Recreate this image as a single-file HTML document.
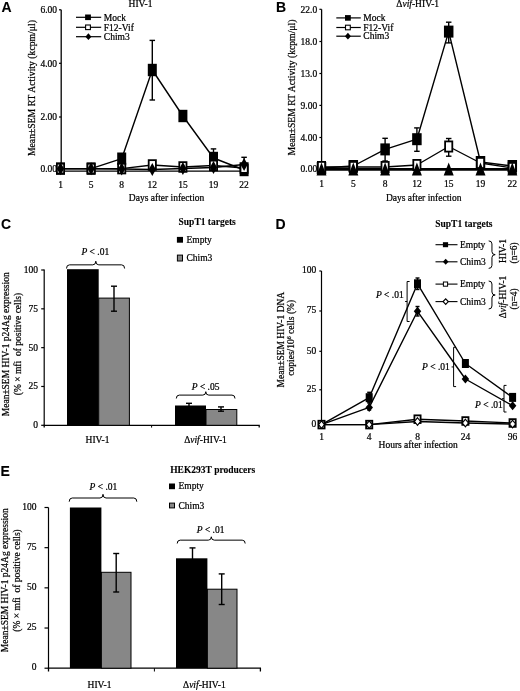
<!DOCTYPE html>
<html><head><meta charset="utf-8"><title>Figure</title>
<style>
html,body{margin:0;padding:0;background:#fff;width:520px;height:691px;overflow:hidden;}
svg{display:block;filter:grayscale(1);}
text{stroke:#000;stroke-width:0.22px;}
text[font-weight=bold]{stroke-width:0.1px;}

</style></head>
<body>
<svg width="520" height="691" viewBox="0 0 520 691">
<rect width="520" height="691" fill="#fff"/>
<text font-family="&quot;Liberation Sans&quot;, sans-serif" font-size="14" x="1.6" y="11.8" fill="#000" font-weight="bold" >A</text>
<line x1="61.2" y1="9.8" x2="61.2" y2="171.5" stroke="#000" stroke-width="1.3"/>
<line x1="59.0" y1="9.8" x2="61.2" y2="9.8" stroke="#000" stroke-width="1.2"/>
<text font-family="&quot;Liberation Serif&quot;, serif" font-size="9.5" x="57" y="13.0" fill="#000" text-anchor="end" >6.00</text>
<line x1="59.0" y1="63.3" x2="61.2" y2="63.3" stroke="#000" stroke-width="1.2"/>
<text font-family="&quot;Liberation Serif&quot;, serif" font-size="9.5" x="57" y="66.5" fill="#000" text-anchor="end" >4.00</text>
<line x1="59.0" y1="117" x2="61.2" y2="117" stroke="#000" stroke-width="1.2"/>
<text font-family="&quot;Liberation Serif&quot;, serif" font-size="9.5" x="57" y="120.2" fill="#000" text-anchor="end" >2.00</text>
<line x1="59.0" y1="168.5" x2="61.2" y2="168.5" stroke="#000" stroke-width="1.2"/>
<text font-family="&quot;Liberation Serif&quot;, serif" font-size="9.5" x="57" y="171.7" fill="#000" text-anchor="end" >0.00</text>
<text font-family="&quot;Liberation Serif&quot;, serif" font-size="9.7" x="34.8" y="88.1" fill="#000" text-anchor="middle" transform="rotate(-90 34.8 88.1)" >Mean&#177;SEM RT Activity (kcpm/&#956;l)</text>
<text font-family="&quot;Liberation Serif&quot;, serif" font-size="9.5" x="60.5" y="187.6" fill="#000" text-anchor="middle" >1</text>
<text font-family="&quot;Liberation Serif&quot;, serif" font-size="9.5" x="91.1" y="187.6" fill="#000" text-anchor="middle" >5</text>
<text font-family="&quot;Liberation Serif&quot;, serif" font-size="9.5" x="121.7" y="187.6" fill="#000" text-anchor="middle" >8</text>
<text font-family="&quot;Liberation Serif&quot;, serif" font-size="9.5" x="152.3" y="187.6" fill="#000" text-anchor="middle" >12</text>
<text font-family="&quot;Liberation Serif&quot;, serif" font-size="9.5" x="182.9" y="187.6" fill="#000" text-anchor="middle" >15</text>
<text font-family="&quot;Liberation Serif&quot;, serif" font-size="9.5" x="213.5" y="187.6" fill="#000" text-anchor="middle" >19</text>
<text font-family="&quot;Liberation Serif&quot;, serif" font-size="9.5" x="244.10000000000002" y="187.6" fill="#000" text-anchor="middle" >22</text>
<text font-family="&quot;Liberation Serif&quot;, serif" font-size="9.5" x="166.6" y="200.8" fill="#000" text-anchor="middle" >Days after infection</text>
<text font-family="&quot;Liberation Serif&quot;, serif" font-size="9.5" x="140.5" y="7.4" fill="#000" text-anchor="middle" >HIV-1</text>
<line x1="76.0" y1="17.3" x2="101.2" y2="17.3" stroke="#000" stroke-width="1.2"/>
<rect x="85.1" y="14.5" width="5.8" height="5.6" fill="#000"/>
<text font-family="&quot;Liberation Serif&quot;, serif" font-size="9.5" x="103.8" y="20.5" fill="#000" >Mock</text>
<line x1="76.0" y1="27.3" x2="101.2" y2="27.3" stroke="#000" stroke-width="1.2"/>
<rect x="85.6" y="25.0" width="4.8" height="4.6" fill="#fff" stroke="#000" stroke-width="1.1"/>
<text font-family="&quot;Liberation Serif&quot;, serif" font-size="9.5" x="103.8" y="30.5" fill="#000" >F12-Vif</text>
<line x1="76.0" y1="36.7" x2="101.2" y2="36.7" stroke="#000" stroke-width="1.2"/>
<polygon points="88.4,33.300000000000004 91.4,36.7 88.4,40.1 85.4,36.7" fill="#000"/>
<text font-family="&quot;Liberation Serif&quot;, serif" font-size="9.5" x="103.8" y="39.900000000000006" fill="#000" >Chim3</text>
<line x1="61.2" y1="171.2" x2="244.4" y2="171.2" stroke="#000" stroke-width="1.3"/>
<polyline points="60.5,168.6 91.1,168.6 121.7,168.6 152.3,165 182.9,167 213.5,165.5 244.10000000000002,168" fill="none" stroke="#000" stroke-width="1.4" stroke-linejoin="round"/>
<polyline points="60.5,168.8 91.1,168.8 121.7,169.0 152.3,169.5 182.9,168.5 213.5,167.5 244.10000000000002,164.5" fill="none" stroke="#000" stroke-width="1.4" stroke-linejoin="round"/>
<polyline points="60.5,168.6 91.1,168.6 121.7,158.7 152.3,70 182.9,116 213.5,158 244.10000000000002,170" fill="none" stroke="#000" stroke-width="1.4" stroke-linejoin="round"/>
<line x1="152.3" y1="40.4" x2="152.3" y2="100" stroke="#000" stroke-width="1.4"/>
<line x1="149.55" y1="40.4" x2="155.05" y2="40.4" stroke="#000" stroke-width="1.4"/>
<line x1="149.55" y1="100" x2="155.05" y2="100" stroke="#000" stroke-width="1.4"/>
<line x1="182.9" y1="113" x2="182.9" y2="119" stroke="#000" stroke-width="1.4"/>
<line x1="180.15" y1="113" x2="185.65" y2="113" stroke="#000" stroke-width="1.4"/>
<line x1="180.15" y1="119" x2="185.65" y2="119" stroke="#000" stroke-width="1.4"/>
<line x1="213.5" y1="148.9" x2="213.5" y2="156" stroke="#000" stroke-width="1.4"/>
<line x1="210.75" y1="148.9" x2="216.25" y2="148.9" stroke="#000" stroke-width="1.4"/>
<line x1="244.10000000000002" y1="157.3" x2="244.10000000000002" y2="164" stroke="#000" stroke-width="1.4"/>
<line x1="241.35000000000002" y1="157.3" x2="246.85000000000002" y2="157.3" stroke="#000" stroke-width="1.4"/>
<rect x="56.0" y="162.4" width="9" height="12.4" fill="#000"/>
<rect x="86.6" y="162.4" width="9" height="12.4" fill="#000"/>
<rect x="117.2" y="152.5" width="9" height="12.4" fill="#000"/>
<rect x="147.8" y="63.8" width="9" height="12.4" fill="#000"/>
<rect x="178.4" y="109.8" width="9" height="12.4" fill="#000"/>
<rect x="209.0" y="151.8" width="9" height="12.4" fill="#000"/>
<rect x="239.60000000000002" y="163.8" width="9" height="12.4" fill="#000"/>
<rect x="56.9" y="163.75" width="7.2" height="9.7" fill="#fff" stroke="#000" stroke-width="1.8"/>
<rect x="87.5" y="163.75" width="7.2" height="9.7" fill="#fff" stroke="#000" stroke-width="1.8"/>
<rect x="118.10000000000001" y="163.75" width="7.2" height="9.7" fill="#fff" stroke="#000" stroke-width="1.8"/>
<rect x="148.70000000000002" y="160.15" width="7.2" height="9.7" fill="#fff" stroke="#000" stroke-width="1.8"/>
<rect x="179.3" y="162.15" width="7.2" height="9.7" fill="#fff" stroke="#000" stroke-width="1.8"/>
<rect x="209.9" y="160.65" width="7.2" height="9.7" fill="#fff" stroke="#000" stroke-width="1.8"/>
<rect x="240.50000000000003" y="163.15" width="7.2" height="9.7" fill="#fff" stroke="#000" stroke-width="1.8"/>
<polygon points="60.5,162.3 64.1,168.8 60.5,175.3 56.9,168.8" fill="#000"/>
<polygon points="91.1,162.3 94.69999999999999,168.8 91.1,175.3 87.5,168.8" fill="#000"/>
<polygon points="121.7,162.5 125.3,169.0 121.7,175.5 118.10000000000001,169.0" fill="#000"/>
<polygon points="152.3,163.0 155.9,169.5 152.3,176.0 148.70000000000002,169.5" fill="#000"/>
<polygon points="182.9,162.0 186.5,168.5 182.9,175.0 179.3,168.5" fill="#000"/>
<polygon points="213.5,161.0 217.1,167.5 213.5,174.0 209.9,167.5" fill="#000"/>
<polygon points="244.10000000000002,158.0 247.70000000000002,164.5 244.10000000000002,171.0 240.50000000000003,164.5" fill="#000"/>
<text font-family="&quot;Liberation Sans&quot;, sans-serif" font-size="14" x="276.0" y="11.7" fill="#000" font-weight="bold" >B</text>
<line x1="321.6" y1="9.3" x2="321.6" y2="170" stroke="#000" stroke-width="1.3"/>
<line x1="319.40000000000003" y1="9.3" x2="321.6" y2="9.3" stroke="#000" stroke-width="1.2"/>
<text font-family="&quot;Liberation Serif&quot;, serif" font-size="9.5" x="317.2" y="12.5" fill="#000" text-anchor="end" >22.0</text>
<line x1="319.40000000000003" y1="41.5" x2="321.6" y2="41.5" stroke="#000" stroke-width="1.2"/>
<text font-family="&quot;Liberation Serif&quot;, serif" font-size="9.5" x="317.2" y="44.7" fill="#000" text-anchor="end" >18.0</text>
<line x1="319.40000000000003" y1="73.5" x2="321.6" y2="73.5" stroke="#000" stroke-width="1.2"/>
<text font-family="&quot;Liberation Serif&quot;, serif" font-size="9.5" x="317.2" y="76.7" fill="#000" text-anchor="end" >13.0</text>
<line x1="319.40000000000003" y1="105.4" x2="321.6" y2="105.4" stroke="#000" stroke-width="1.2"/>
<text font-family="&quot;Liberation Serif&quot;, serif" font-size="9.5" x="317.2" y="108.60000000000001" fill="#000" text-anchor="end" >9.00</text>
<line x1="319.40000000000003" y1="137.5" x2="321.6" y2="137.5" stroke="#000" stroke-width="1.2"/>
<text font-family="&quot;Liberation Serif&quot;, serif" font-size="9.5" x="317.2" y="140.7" fill="#000" text-anchor="end" >4.00</text>
<line x1="319.40000000000003" y1="169.2" x2="321.6" y2="169.2" stroke="#000" stroke-width="1.2"/>
<text font-family="&quot;Liberation Serif&quot;, serif" font-size="9.5" x="317.2" y="172.39999999999998" fill="#000" text-anchor="end" >0.00</text>
<text font-family="&quot;Liberation Serif&quot;, serif" font-size="9.7" x="295.3" y="87.5" fill="#000" text-anchor="middle" transform="rotate(-90 295.3 87.5)" >Mean&#177;SEM RT Activity (kcpm/&#956;l)</text>
<text font-family="&quot;Liberation Serif&quot;, serif" font-size="9.5" x="321.5" y="187.2" fill="#000" text-anchor="middle" >1</text>
<text font-family="&quot;Liberation Serif&quot;, serif" font-size="9.5" x="353.3" y="187.2" fill="#000" text-anchor="middle" >5</text>
<text font-family="&quot;Liberation Serif&quot;, serif" font-size="9.5" x="385.1" y="187.2" fill="#000" text-anchor="middle" >8</text>
<text font-family="&quot;Liberation Serif&quot;, serif" font-size="9.5" x="416.9" y="187.2" fill="#000" text-anchor="middle" >12</text>
<text font-family="&quot;Liberation Serif&quot;, serif" font-size="9.5" x="448.7" y="187.2" fill="#000" text-anchor="middle" >15</text>
<text font-family="&quot;Liberation Serif&quot;, serif" font-size="9.5" x="480.5" y="187.2" fill="#000" text-anchor="middle" >19</text>
<text font-family="&quot;Liberation Serif&quot;, serif" font-size="9.5" x="512.3" y="187.2" fill="#000" text-anchor="middle" >22</text>
<text font-family="&quot;Liberation Serif&quot;, serif" font-size="9.5" x="423.7" y="200.8" fill="#000" text-anchor="middle" >Days after infection</text>
<text font-family="&quot;Liberation Serif&quot;, serif" font-size="9.5" x="417.7" y="7.4" text-anchor="middle">&#916;<tspan font-style="italic">vif</tspan>-HIV-1</text>
<line x1="336.3" y1="17.9" x2="360.8" y2="17.9" stroke="#000" stroke-width="1.2"/>
<rect x="345.0" y="15.099999999999998" width="5.8" height="5.6" fill="#000"/>
<text font-family="&quot;Liberation Serif&quot;, serif" font-size="9.5" x="363.3" y="21.099999999999998" fill="#000" >Mock</text>
<line x1="336.3" y1="27.5" x2="360.8" y2="27.5" stroke="#000" stroke-width="1.2"/>
<rect x="345.5" y="25.2" width="4.8" height="4.6" fill="#fff" stroke="#000" stroke-width="1.1"/>
<text font-family="&quot;Liberation Serif&quot;, serif" font-size="9.5" x="363.3" y="30.7" fill="#000" >F12-Vif</text>
<line x1="336.3" y1="36.2" x2="360.8" y2="36.2" stroke="#000" stroke-width="1.2"/>
<polygon points="347.9,32.800000000000004 350.9,36.2 347.9,39.6 344.9,36.2" fill="#000"/>
<text font-family="&quot;Liberation Serif&quot;, serif" font-size="9.5" x="363.3" y="39.400000000000006" fill="#000" >Chim3</text>
<line x1="321.6" y1="169.4" x2="512.3" y2="169.4" stroke="#000" stroke-width="2.6"/>
<polyline points="321.5,167 353.3,167 385.1,167 416.9,165 448.7,146.5 480.5,163 512.3,168" fill="none" stroke="#000" stroke-width="1.4" stroke-linejoin="round"/>
<polyline points="321.5,168 353.3,166 385.1,149.4 416.9,139.2 448.7,31.6 480.5,162 512.3,166" fill="none" stroke="#000" stroke-width="1.4" stroke-linejoin="round"/>
<line x1="385.1" y1="138.3" x2="385.1" y2="161" stroke="#000" stroke-width="1.4"/>
<line x1="382.35" y1="138.3" x2="387.85" y2="138.3" stroke="#000" stroke-width="1.4"/>
<line x1="382.35" y1="161" x2="387.85" y2="161" stroke="#000" stroke-width="1.4"/>
<line x1="416.9" y1="127.9" x2="416.9" y2="151.3" stroke="#000" stroke-width="1.4"/>
<line x1="414.15" y1="127.9" x2="419.65" y2="127.9" stroke="#000" stroke-width="1.4"/>
<line x1="414.15" y1="151.3" x2="419.65" y2="151.3" stroke="#000" stroke-width="1.4"/>
<line x1="448.7" y1="22.2" x2="448.7" y2="42.9" stroke="#000" stroke-width="1.4"/>
<line x1="445.95" y1="22.2" x2="451.45" y2="22.2" stroke="#000" stroke-width="1.4"/>
<line x1="445.95" y1="42.9" x2="451.45" y2="42.9" stroke="#000" stroke-width="1.4"/>
<line x1="448.7" y1="138.5" x2="448.7" y2="156.2" stroke="#000" stroke-width="1.4"/>
<line x1="445.95" y1="138.5" x2="451.45" y2="138.5" stroke="#000" stroke-width="1.4"/>
<line x1="445.95" y1="156.2" x2="451.45" y2="156.2" stroke="#000" stroke-width="1.4"/>
<rect x="316.75" y="162.0" width="9.5" height="12" fill="#000"/>
<rect x="348.55" y="160.0" width="9.5" height="12" fill="#000"/>
<rect x="380.35" y="143.4" width="9.5" height="12" fill="#000"/>
<rect x="412.15" y="133.2" width="9.5" height="12" fill="#000"/>
<rect x="443.95" y="25.6" width="9.5" height="12" fill="#000"/>
<rect x="475.75" y="156.0" width="9.5" height="12" fill="#000"/>
<rect x="507.54999999999995" y="160.0" width="9.5" height="12" fill="#000"/>
<rect x="381.5" y="161.9" width="7.2" height="10.2" fill="#fff" stroke="#000" stroke-width="1.8"/>
<rect x="413.29999999999995" y="159.9" width="7.2" height="10.2" fill="#fff" stroke="#000" stroke-width="1.8"/>
<rect x="445.09999999999997" y="141.4" width="7.2" height="10.2" fill="#fff" stroke="#000" stroke-width="1.8"/>
<rect x="317.9" y="161.9" width="7.2" height="10.2" fill="#fff" stroke="#000" stroke-width="1.8"/>
<rect x="349.7" y="161.9" width="7.2" height="10.2" fill="#fff" stroke="#000" stroke-width="1.8"/>
<rect x="476.9" y="157.9" width="7.2" height="10.2" fill="#fff" stroke="#000" stroke-width="1.8"/>
<rect x="508.69999999999993" y="162.9" width="7.2" height="10.2" fill="#fff" stroke="#000" stroke-width="1.8"/>
<polygon points="321.5,162.5 326.5,175.4 316.5,175.4" fill="#000"/>
<polygon points="353.3,162.5 358.3,175.4 348.3,175.4" fill="#000"/>
<polygon points="385.1,162.5 390.1,175.4 380.1,175.4" fill="#000"/>
<polygon points="416.9,162.5 421.9,175.4 411.9,175.4" fill="#000"/>
<polygon points="448.7,162.5 453.7,175.4 443.7,175.4" fill="#000"/>
<polygon points="480.5,162.5 485.5,175.4 475.5,175.4" fill="#000"/>
<polygon points="512.3,162.5 517.3,175.4 507.29999999999995,175.4" fill="#000"/>
<text font-family="&quot;Liberation Sans&quot;, sans-serif" font-size="14" x="1.0" y="228.6" fill="#000" font-weight="bold" >C</text>
<line x1="44.2" y1="269.5" x2="44.2" y2="425.3" stroke="#000" stroke-width="1.2"/>
<line x1="41.2" y1="270.0" x2="44.2" y2="270.0" stroke="#000" stroke-width="1.2"/>
<text font-family="&quot;Liberation Serif&quot;, serif" font-size="9.5" x="38.1" y="273.0" fill="#000" text-anchor="end" >100</text>
<line x1="41.2" y1="308.82500000000005" x2="44.2" y2="308.82500000000005" stroke="#000" stroke-width="1.2"/>
<text font-family="&quot;Liberation Serif&quot;, serif" font-size="9.5" x="38.1" y="311.82500000000005" fill="#000" text-anchor="end" >75</text>
<line x1="41.2" y1="347.65000000000003" x2="44.2" y2="347.65000000000003" stroke="#000" stroke-width="1.2"/>
<text font-family="&quot;Liberation Serif&quot;, serif" font-size="9.5" x="38.1" y="350.65000000000003" fill="#000" text-anchor="end" >50</text>
<line x1="41.2" y1="386.475" x2="44.2" y2="386.475" stroke="#000" stroke-width="1.2"/>
<text font-family="&quot;Liberation Serif&quot;, serif" font-size="9.5" x="38.1" y="389.475" fill="#000" text-anchor="end" >25</text>
<line x1="41.2" y1="425.3" x2="44.2" y2="425.3" stroke="#000" stroke-width="1.2"/>
<text font-family="&quot;Liberation Serif&quot;, serif" font-size="9.5" x="38.1" y="428.3" fill="#000" text-anchor="end" >0</text>
<polyline points="44.2,427.6 44.2,425.3 259.2,425.3 259.2,427.6" fill="none" stroke="#000" stroke-width="1.3"/>
<line x1="151.6" y1="425.3" x2="151.6" y2="427.6" stroke="#000" stroke-width="1.0"/>
<rect x="67" y="269.2" width="31.7" height="156.10000000000002" fill="#000"/>
<rect x="98.7" y="298.1" width="30.7" height="127.19999999999999" fill="#878787" stroke="#000" stroke-width="1"/>
<line x1="114" y1="286.2" x2="114" y2="311.2" stroke="#000" stroke-width="1.4"/>
<line x1="111.0" y1="286.2" x2="117.0" y2="286.2" stroke="#000" stroke-width="1.4"/>
<line x1="111.0" y1="311.2" x2="117.0" y2="311.2" stroke="#000" stroke-width="1.4"/>
<rect x="175" y="405.5" width="31" height="19.80000000000001" fill="#000"/>
<line x1="189" y1="403.3" x2="189" y2="406" stroke="#000" stroke-width="1.4"/>
<line x1="186.0" y1="403.3" x2="192.0" y2="403.3" stroke="#000" stroke-width="1.4"/>
<rect x="206" y="409.5" width="30.8" height="15.800000000000011" fill="#878787" stroke="#000" stroke-width="1"/>
<line x1="221" y1="406.9" x2="221" y2="411.2" stroke="#000" stroke-width="1.4"/>
<line x1="218.0" y1="406.9" x2="224.0" y2="406.9" stroke="#000" stroke-width="1.4"/>
<line x1="218.0" y1="411.2" x2="224.0" y2="411.2" stroke="#000" stroke-width="1.4"/>
<path d="M66.5,268.5 Q66.5,264.85 69.5,264.85 L92.8,264.85 Q95.8,264.85 95.8,261.2 Q95.8,264.85 98.8,264.85 L121.6,264.85 Q124.6,264.85 124.6,268.5" fill="none" stroke="#000" stroke-width="1.0"/>
<path d="M176.3,398.5 Q176.3,395.1 179.3,395.1 L202.8,395.1 Q205.8,395.1 205.8,391.7 Q205.8,395.1 208.8,395.1 L232,395.1 Q235,395.1 235,398.5" fill="none" stroke="#000" stroke-width="1.0"/>
<text font-family="&quot;Liberation Serif&quot;, serif" font-size="9.5" x="95.3" y="255.2" text-anchor="middle"><tspan font-style="italic">P</tspan> &lt; .01</text>
<text font-family="&quot;Liberation Serif&quot;, serif" font-size="9.5" x="205.6" y="389.8" text-anchor="middle"><tspan font-style="italic">P</tspan> &lt; .05</text>
<text font-family="&quot;Liberation Serif&quot;, serif" font-size="9.5" x="207.2" y="225.4" fill="#000" text-anchor="middle" font-weight="bold" >SupT1 targets</text>
<rect x="176.9" y="236.9" width="6.1" height="5.8" fill="#000"/>
<text font-family="&quot;Liberation Serif&quot;, serif" font-size="9.5" x="186.5" y="242.7" fill="#000" >Empty</text>
<rect x="177.4" y="255.1" width="5.1" height="5.9" fill="#878787" stroke="#000" stroke-width="1"/>
<text font-family="&quot;Liberation Serif&quot;, serif" font-size="9.5" x="186.5" y="261.3" fill="#000" >Chim3</text>
<text font-family="&quot;Liberation Serif&quot;, serif" font-size="9.5" x="97.5" y="442.8" fill="#000" text-anchor="middle" >HIV-1</text>
<text font-family="&quot;Liberation Serif&quot;, serif" font-size="9.5" x="205.5" y="442.8" text-anchor="middle">&#916;<tspan font-style="italic">vif</tspan>-HIV-1</text>
<text font-family="&quot;Liberation Serif&quot;, serif" font-size="9.5" x="9.0" y="344.3" fill="#000" text-anchor="middle" transform="rotate(-90 9.0 344.3)" >Mean&#177;SEM HIV-1 p24Ag expression</text>
<text font-family="&quot;Liberation Serif&quot;, serif" font-size="9.5" x="21.2" y="344.0" fill="#000" text-anchor="middle" transform="rotate(-90 21.2 344.0)" xml:space="preserve">(% &#215; mfi  of positive cells)</text>
<text font-family="&quot;Liberation Sans&quot;, sans-serif" font-size="14" x="275.6" y="229.0" fill="#000" font-weight="bold" >D</text>
<line x1="321.5" y1="271" x2="321.5" y2="424.9" stroke="#000" stroke-width="1.2"/>
<line x1="319.3" y1="271" x2="321.5" y2="271" stroke="#000" stroke-width="1.2"/>
<text font-family="&quot;Liberation Serif&quot;, serif" font-size="9.5" x="316.2" y="273.2" fill="#000" text-anchor="end" >100</text>
<line x1="319.3" y1="311" x2="321.5" y2="311" stroke="#000" stroke-width="1.2"/>
<text font-family="&quot;Liberation Serif&quot;, serif" font-size="9.5" x="316.2" y="313.2" fill="#000" text-anchor="end" >75</text>
<line x1="319.3" y1="351.3" x2="321.5" y2="351.3" stroke="#000" stroke-width="1.2"/>
<text font-family="&quot;Liberation Serif&quot;, serif" font-size="9.5" x="316.2" y="353.5" fill="#000" text-anchor="end" >50</text>
<line x1="319.3" y1="389.8" x2="321.5" y2="389.8" stroke="#000" stroke-width="1.2"/>
<text font-family="&quot;Liberation Serif&quot;, serif" font-size="9.5" x="316.2" y="392.0" fill="#000" text-anchor="end" >25</text>
<line x1="319.3" y1="424.9" x2="321.5" y2="424.9" stroke="#000" stroke-width="1.2"/>
<text font-family="&quot;Liberation Serif&quot;, serif" font-size="9.5" x="316.2" y="427.09999999999997" fill="#000" text-anchor="end" >0</text>
<text font-family="&quot;Liberation Serif&quot;, serif" font-size="9.5" x="321.5" y="439.5" fill="#000" text-anchor="middle" >1</text>
<text font-family="&quot;Liberation Serif&quot;, serif" font-size="9.5" x="369.2" y="439.5" fill="#000" text-anchor="middle" >4</text>
<text font-family="&quot;Liberation Serif&quot;, serif" font-size="9.5" x="417.5" y="439.5" fill="#000" text-anchor="middle" >8</text>
<text font-family="&quot;Liberation Serif&quot;, serif" font-size="9.5" x="465.4" y="439.5" fill="#000" text-anchor="middle" >24</text>
<text font-family="&quot;Liberation Serif&quot;, serif" font-size="9.5" x="512.6" y="439.5" fill="#000" text-anchor="middle" >96</text>
<text font-family="&quot;Liberation Serif&quot;, serif" font-size="9.5" x="418.1" y="447.6" fill="#000" text-anchor="middle" >Hours after infection</text>
<text font-family="&quot;Liberation Serif&quot;, serif" font-size="9.5" x="284.0" y="339.6" fill="#000" text-anchor="middle" transform="rotate(-90 284.0 339.6)" >Mean&#177;SEM HIV-1 DNA</text>
<text font-family="&quot;Liberation Serif&quot;, serif" font-size="9.5" x="294.3" y="337.75" text-anchor="middle" transform="rotate(-90 294.3 337.75)">copies/10<tspan font-size="6" dy="-3.5">6</tspan><tspan dy="3.5"> cells (%)</tspan></text>
<polyline points="321.5,424.6 369.2,424.6 417.5,421.5 465.4,423.0 512.6,424.0" fill="none" stroke="#000" stroke-width="1.4" stroke-linejoin="round"/>
<polyline points="321.5,424.6 369.2,424.6 417.5,419.2 465.4,421.0 512.6,423.0" fill="none" stroke="#000" stroke-width="1.4" stroke-linejoin="round"/>
<polyline points="321.5,424.6 369.2,407.4 417.5,311.3 465.4,379.0 512.6,405.7" fill="none" stroke="#000" stroke-width="1.4" stroke-linejoin="round"/>
<polyline points="321.5,424.6 369.2,397.7 417.5,283.8 465.4,363.5 512.6,397.4" fill="none" stroke="#000" stroke-width="1.4" stroke-linejoin="round"/>
<line x1="369.2" y1="392.3" x2="369.2" y2="403" stroke="#000" stroke-width="1.4"/>
<line x1="367.2" y1="392.3" x2="371.2" y2="392.3" stroke="#000" stroke-width="1.4"/>
<line x1="367.2" y1="403" x2="371.2" y2="403" stroke="#000" stroke-width="1.4"/>
<line x1="369.2" y1="402" x2="369.2" y2="410" stroke="#000" stroke-width="1.4"/>
<line x1="367.2" y1="402" x2="371.2" y2="402" stroke="#000" stroke-width="1.4"/>
<line x1="367.2" y1="410" x2="371.2" y2="410" stroke="#000" stroke-width="1.4"/>
<line x1="417.5" y1="278" x2="417.5" y2="289.5" stroke="#000" stroke-width="1.4"/>
<line x1="415.5" y1="278" x2="419.5" y2="278" stroke="#000" stroke-width="1.4"/>
<line x1="415.5" y1="289.5" x2="419.5" y2="289.5" stroke="#000" stroke-width="1.4"/>
<line x1="417.5" y1="306.5" x2="417.5" y2="316" stroke="#000" stroke-width="1.4"/>
<line x1="415.5" y1="306.5" x2="419.5" y2="306.5" stroke="#000" stroke-width="1.4"/>
<line x1="415.5" y1="316" x2="419.5" y2="316" stroke="#000" stroke-width="1.4"/>
<rect x="318.4" y="420.75" width="6.2" height="7.7" fill="#fff" stroke="#000" stroke-width="1.8"/>
<rect x="366.09999999999997" y="420.75" width="6.2" height="7.7" fill="#fff" stroke="#000" stroke-width="1.8"/>
<rect x="414.4" y="415.34999999999997" width="6.2" height="7.7" fill="#fff" stroke="#000" stroke-width="1.8"/>
<rect x="462.29999999999995" y="417.15" width="6.2" height="7.7" fill="#fff" stroke="#000" stroke-width="1.8"/>
<rect x="509.5" y="419.15" width="6.2" height="7.7" fill="#fff" stroke="#000" stroke-width="1.8"/>
<polygon points="321.5,420.85 324.5,424.6 321.5,428.35 318.5,424.6" fill="#fff" stroke="#000" stroke-width="1.2"/>
<polygon points="369.2,420.85 372.2,424.6 369.2,428.35 366.2,424.6" fill="#fff" stroke="#000" stroke-width="1.2"/>
<polygon points="417.5,417.75 420.5,421.5 417.5,425.25 414.5,421.5" fill="#fff" stroke="#000" stroke-width="1.2"/>
<polygon points="465.4,419.25 468.4,423.0 465.4,426.75 462.4,423.0" fill="#fff" stroke="#000" stroke-width="1.2"/>
<polygon points="512.6,420.25 515.6,424.0 512.6,427.75 509.6,424.0" fill="#fff" stroke="#000" stroke-width="1.2"/>
<rect x="365.7" y="393.2" width="7" height="9" fill="#000"/>
<rect x="414.0" y="279.3" width="7" height="9" fill="#000"/>
<rect x="461.9" y="359.0" width="7" height="9" fill="#000"/>
<rect x="509.1" y="392.9" width="7" height="9" fill="#000"/>
<polygon points="369.2,402.9 372.95,407.4 369.2,411.9 365.45,407.4" fill="#000"/>
<polygon points="417.5,306.8 421.25,311.3 417.5,315.8 413.75,311.3" fill="#000"/>
<polygon points="465.4,374.5 469.15,379.0 465.4,383.5 461.65,379.0" fill="#000"/>
<polygon points="512.6,401.2 516.35,405.7 512.6,410.2 508.85,405.7" fill="#000"/>
<path d="M409.6,281.5 L407.1,281.5 L407.1,321.5 L409.6,321.5" fill="none" stroke="#000" stroke-width="1.0"/>
<line x1="405.1" y1="301.5" x2="407.1" y2="301.5" stroke="#000" stroke-width="1.0"/>
<text font-family="&quot;Liberation Serif&quot;, serif" font-size="9.5" x="389.8" y="297.8" text-anchor="middle"><tspan font-style="italic">P</tspan> &lt; .01</text>
<path d="M456.1,347.3 L453.6,347.3 L453.6,386.6 L456.1,386.6" fill="none" stroke="#000" stroke-width="1.0"/>
<line x1="451.6" y1="366.95000000000005" x2="453.6" y2="366.95000000000005" stroke="#000" stroke-width="1.0"/>
<text font-family="&quot;Liberation Serif&quot;, serif" font-size="9.5" x="435.9" y="370.2" text-anchor="middle"><tspan font-style="italic">P</tspan> &lt; .01</text>
<path d="M506.5,385.4 L504,385.4 L504,412 L506.5,412" fill="none" stroke="#000" stroke-width="1.0"/>
<line x1="502" y1="398.7" x2="504" y2="398.7" stroke="#000" stroke-width="1.0"/>
<text font-family="&quot;Liberation Serif&quot;, serif" font-size="9.5" x="488.9" y="407.6" text-anchor="middle"><tspan font-style="italic">P</tspan> &lt; .01</text>
<text font-family="&quot;Liberation Serif&quot;, serif" font-size="9.5" x="463.9" y="226.9" fill="#000" text-anchor="middle" font-weight="bold" >SupT1 targets</text>
<line x1="435.5" y1="244.7" x2="457.5" y2="244.7" stroke="#000" stroke-width="1.1"/>
<rect x="442.9" y="242.2" width="5.2" height="5.0" fill="#000"/>
<text font-family="&quot;Liberation Serif&quot;, serif" font-size="9.5" x="460" y="247.89999999999998" fill="#000" >Empty</text>
<line x1="435.5" y1="261.8" x2="457.5" y2="261.8" stroke="#000" stroke-width="1.1"/>
<polygon points="445.7,258.8 448.5,261.8 445.7,264.8 442.9,261.8" fill="#000"/>
<text font-family="&quot;Liberation Serif&quot;, serif" font-size="9.5" x="460" y="265.0" fill="#000" >Chim3</text>
<line x1="435.5" y1="284.1" x2="457.5" y2="284.1" stroke="#000" stroke-width="1.1"/>
<rect x="443.4" y="282.0" width="4.2" height="4.2" fill="#fff" stroke="#000" stroke-width="1.0"/>
<text font-family="&quot;Liberation Serif&quot;, serif" font-size="9.5" x="460" y="287.3" fill="#000" >Empty</text>
<line x1="435.5" y1="301.6" x2="457.5" y2="301.6" stroke="#000" stroke-width="1.1"/>
<polygon points="445.7,298.8 448.3,301.6 445.7,304.40000000000003 443.09999999999997,301.6" fill="#fff" stroke="#000" stroke-width="1.2"/>
<text font-family="&quot;Liberation Serif&quot;, serif" font-size="9.5" x="460" y="304.8" fill="#000" >Chim3</text>
<path d="M488.7,240.9 Q491.95,240.9 491.95,243.9 L491.95,251.64999999999998 Q491.95,254.64999999999998 495.2,254.64999999999998 Q491.95,254.64999999999998 491.95,257.65 L491.95,265.4 Q491.95,268.4 488.7,268.4" fill="none" stroke="#000" stroke-width="1.0"/>
<path d="M488.7,281 Q491.95,281 491.95,284 L491.95,292.0 Q491.95,295.0 495.2,295.0 Q491.95,295.0 491.95,298.0 L491.95,306 Q491.95,309 488.7,309" fill="none" stroke="#000" stroke-width="1.0"/>
<text font-family="&quot;Liberation Serif&quot;, serif" font-size="9.5" x="505.8" y="251" fill="#000" text-anchor="middle" transform="rotate(-90 505.8 251)" >HIV-1</text>
<text font-family="&quot;Liberation Serif&quot;, serif" font-size="9.5" x="517.4" y="252.8" fill="#000" text-anchor="middle" transform="rotate(-90 517.4 252.8)" >(n=6)</text>
<text font-family="&quot;Liberation Serif&quot;, serif" font-size="9.5" x="505.8" y="297" text-anchor="middle" transform="rotate(-90 505.8 297)">&#916;<tspan font-style="italic">vif</tspan>-HIV-1</text>
<text font-family="&quot;Liberation Serif&quot;, serif" font-size="9.5" x="517.4" y="298.8" fill="#000" text-anchor="middle" transform="rotate(-90 517.4 298.8)" >(n=4)</text>
<text font-family="&quot;Liberation Sans&quot;, sans-serif" font-size="14" x="0.6" y="476.1" fill="#000" font-weight="bold" >E</text>
<line x1="48.5" y1="507.5" x2="48.5" y2="668.2" stroke="#000" stroke-width="1.2"/>
<line x1="44.5" y1="507.50000000000006" x2="48.5" y2="507.50000000000006" stroke="#000" stroke-width="1.2"/>
<text font-family="&quot;Liberation Serif&quot;, serif" font-size="9.5" x="36.6" y="509.6000000000001" fill="#000" text-anchor="end" >100</text>
<line x1="44.5" y1="547.6750000000001" x2="48.5" y2="547.6750000000001" stroke="#000" stroke-width="1.2"/>
<text font-family="&quot;Liberation Serif&quot;, serif" font-size="9.5" x="36.6" y="549.7750000000001" fill="#000" text-anchor="end" >75</text>
<line x1="44.5" y1="587.85" x2="48.5" y2="587.85" stroke="#000" stroke-width="1.2"/>
<text font-family="&quot;Liberation Serif&quot;, serif" font-size="9.5" x="36.6" y="589.95" fill="#000" text-anchor="end" >50</text>
<line x1="44.5" y1="628.0250000000001" x2="48.5" y2="628.0250000000001" stroke="#000" stroke-width="1.2"/>
<text font-family="&quot;Liberation Serif&quot;, serif" font-size="9.5" x="36.6" y="630.1250000000001" fill="#000" text-anchor="end" >25</text>
<line x1="44.5" y1="668.2" x2="48.5" y2="668.2" stroke="#000" stroke-width="1.2"/>
<text font-family="&quot;Liberation Serif&quot;, serif" font-size="9.5" x="36.6" y="670.3000000000001" fill="#000" text-anchor="end" >0</text>
<polyline points="48.5,671.5 48.5,668.2 260.4,668.2 260.4,671.5" fill="none" stroke="#000" stroke-width="1.3"/>
<line x1="154.4" y1="668.2" x2="154.4" y2="671.5" stroke="#000" stroke-width="1.0"/>
<rect x="69.9" y="507.50000000000006" width="31.5" height="160.7" fill="#000"/>
<rect x="101.4" y="572.3" width="29.6" height="95.90000000000009" fill="#878787" stroke="#000" stroke-width="1"/>
<line x1="116.2" y1="553.5" x2="116.2" y2="592" stroke="#000" stroke-width="1.4"/>
<line x1="113.2" y1="553.5" x2="119.2" y2="553.5" stroke="#000" stroke-width="1.4"/>
<line x1="113.2" y1="592" x2="119.2" y2="592" stroke="#000" stroke-width="1.4"/>
<rect x="176" y="558.3" width="31.4" height="109.90000000000009" fill="#000"/>
<line x1="192.5" y1="547.9" x2="192.5" y2="560" stroke="#000" stroke-width="1.4"/>
<line x1="189.5" y1="547.9" x2="195.5" y2="547.9" stroke="#000" stroke-width="1.4"/>
<rect x="207.4" y="589.2" width="29.6" height="79.0" fill="#878787" stroke="#000" stroke-width="1"/>
<line x1="221.7" y1="573.9" x2="221.7" y2="604.5" stroke="#000" stroke-width="1.4"/>
<line x1="218.7" y1="573.9" x2="224.7" y2="573.9" stroke="#000" stroke-width="1.4"/>
<line x1="218.7" y1="604.5" x2="224.7" y2="604.5" stroke="#000" stroke-width="1.4"/>
<path d="M69.2,501.7 Q69.2,498.0 72.2,498.0 L100,498.0 Q103,498.0 103,494.3 Q103,498.0 106,498.0 L133.8,498.0 Q136.8,498.0 136.8,501.7" fill="none" stroke="#000" stroke-width="1.0"/>
<path d="M177.2,543.5 Q177.2,540.15 180.2,540.15 L208.3,540.15 Q211.3,540.15 211.3,536.8 Q211.3,540.15 214.3,540.15 L242.2,540.15 Q245.2,540.15 245.2,543.5" fill="none" stroke="#000" stroke-width="1.0"/>
<text font-family="&quot;Liberation Serif&quot;, serif" font-size="9.5" x="103.4" y="490.0" text-anchor="middle"><tspan font-style="italic">P</tspan> &lt; .01</text>
<text font-family="&quot;Liberation Serif&quot;, serif" font-size="9.5" x="210.6" y="533.1" text-anchor="middle"><tspan font-style="italic">P</tspan> &lt; .01</text>
<text font-family="&quot;Liberation Serif&quot;, serif" font-size="9.5" x="212.7" y="473.0" fill="#000" text-anchor="middle" font-weight="bold" >HEK293T producers</text>
<rect x="169" y="483.5" width="6" height="5.7" fill="#000"/>
<text font-family="&quot;Liberation Serif&quot;, serif" font-size="9.5" x="178.5" y="488.6" fill="#000" >Empty</text>
<rect x="169.5" y="503.1" width="5" height="4.8" fill="#878787" stroke="#000" stroke-width="1"/>
<text font-family="&quot;Liberation Serif&quot;, serif" font-size="9.5" x="178.5" y="508.9" fill="#000" >Chim3</text>
<text font-family="&quot;Liberation Serif&quot;, serif" font-size="9.5" x="99.5" y="688.2" fill="#000" text-anchor="middle" >HIV-1</text>
<text font-family="&quot;Liberation Serif&quot;, serif" font-size="9.5" x="204.4" y="688.2" text-anchor="middle">&#916;<tspan font-style="italic">vif</tspan>-HIV-1</text>
<text font-family="&quot;Liberation Serif&quot;, serif" font-size="9.5" x="8.4" y="580.25" fill="#000" text-anchor="middle" transform="rotate(-90 8.4 580.25)" >Mean&#177;SEM HIV-1 p24Ag expression</text>
<text font-family="&quot;Liberation Serif&quot;, serif" font-size="9.5" x="20.0" y="580.45" fill="#000" text-anchor="middle" transform="rotate(-90 20.0 580.45)" xml:space="preserve">(% &#215; mfi  of positive cells)</text>
</svg>
</body></html>
